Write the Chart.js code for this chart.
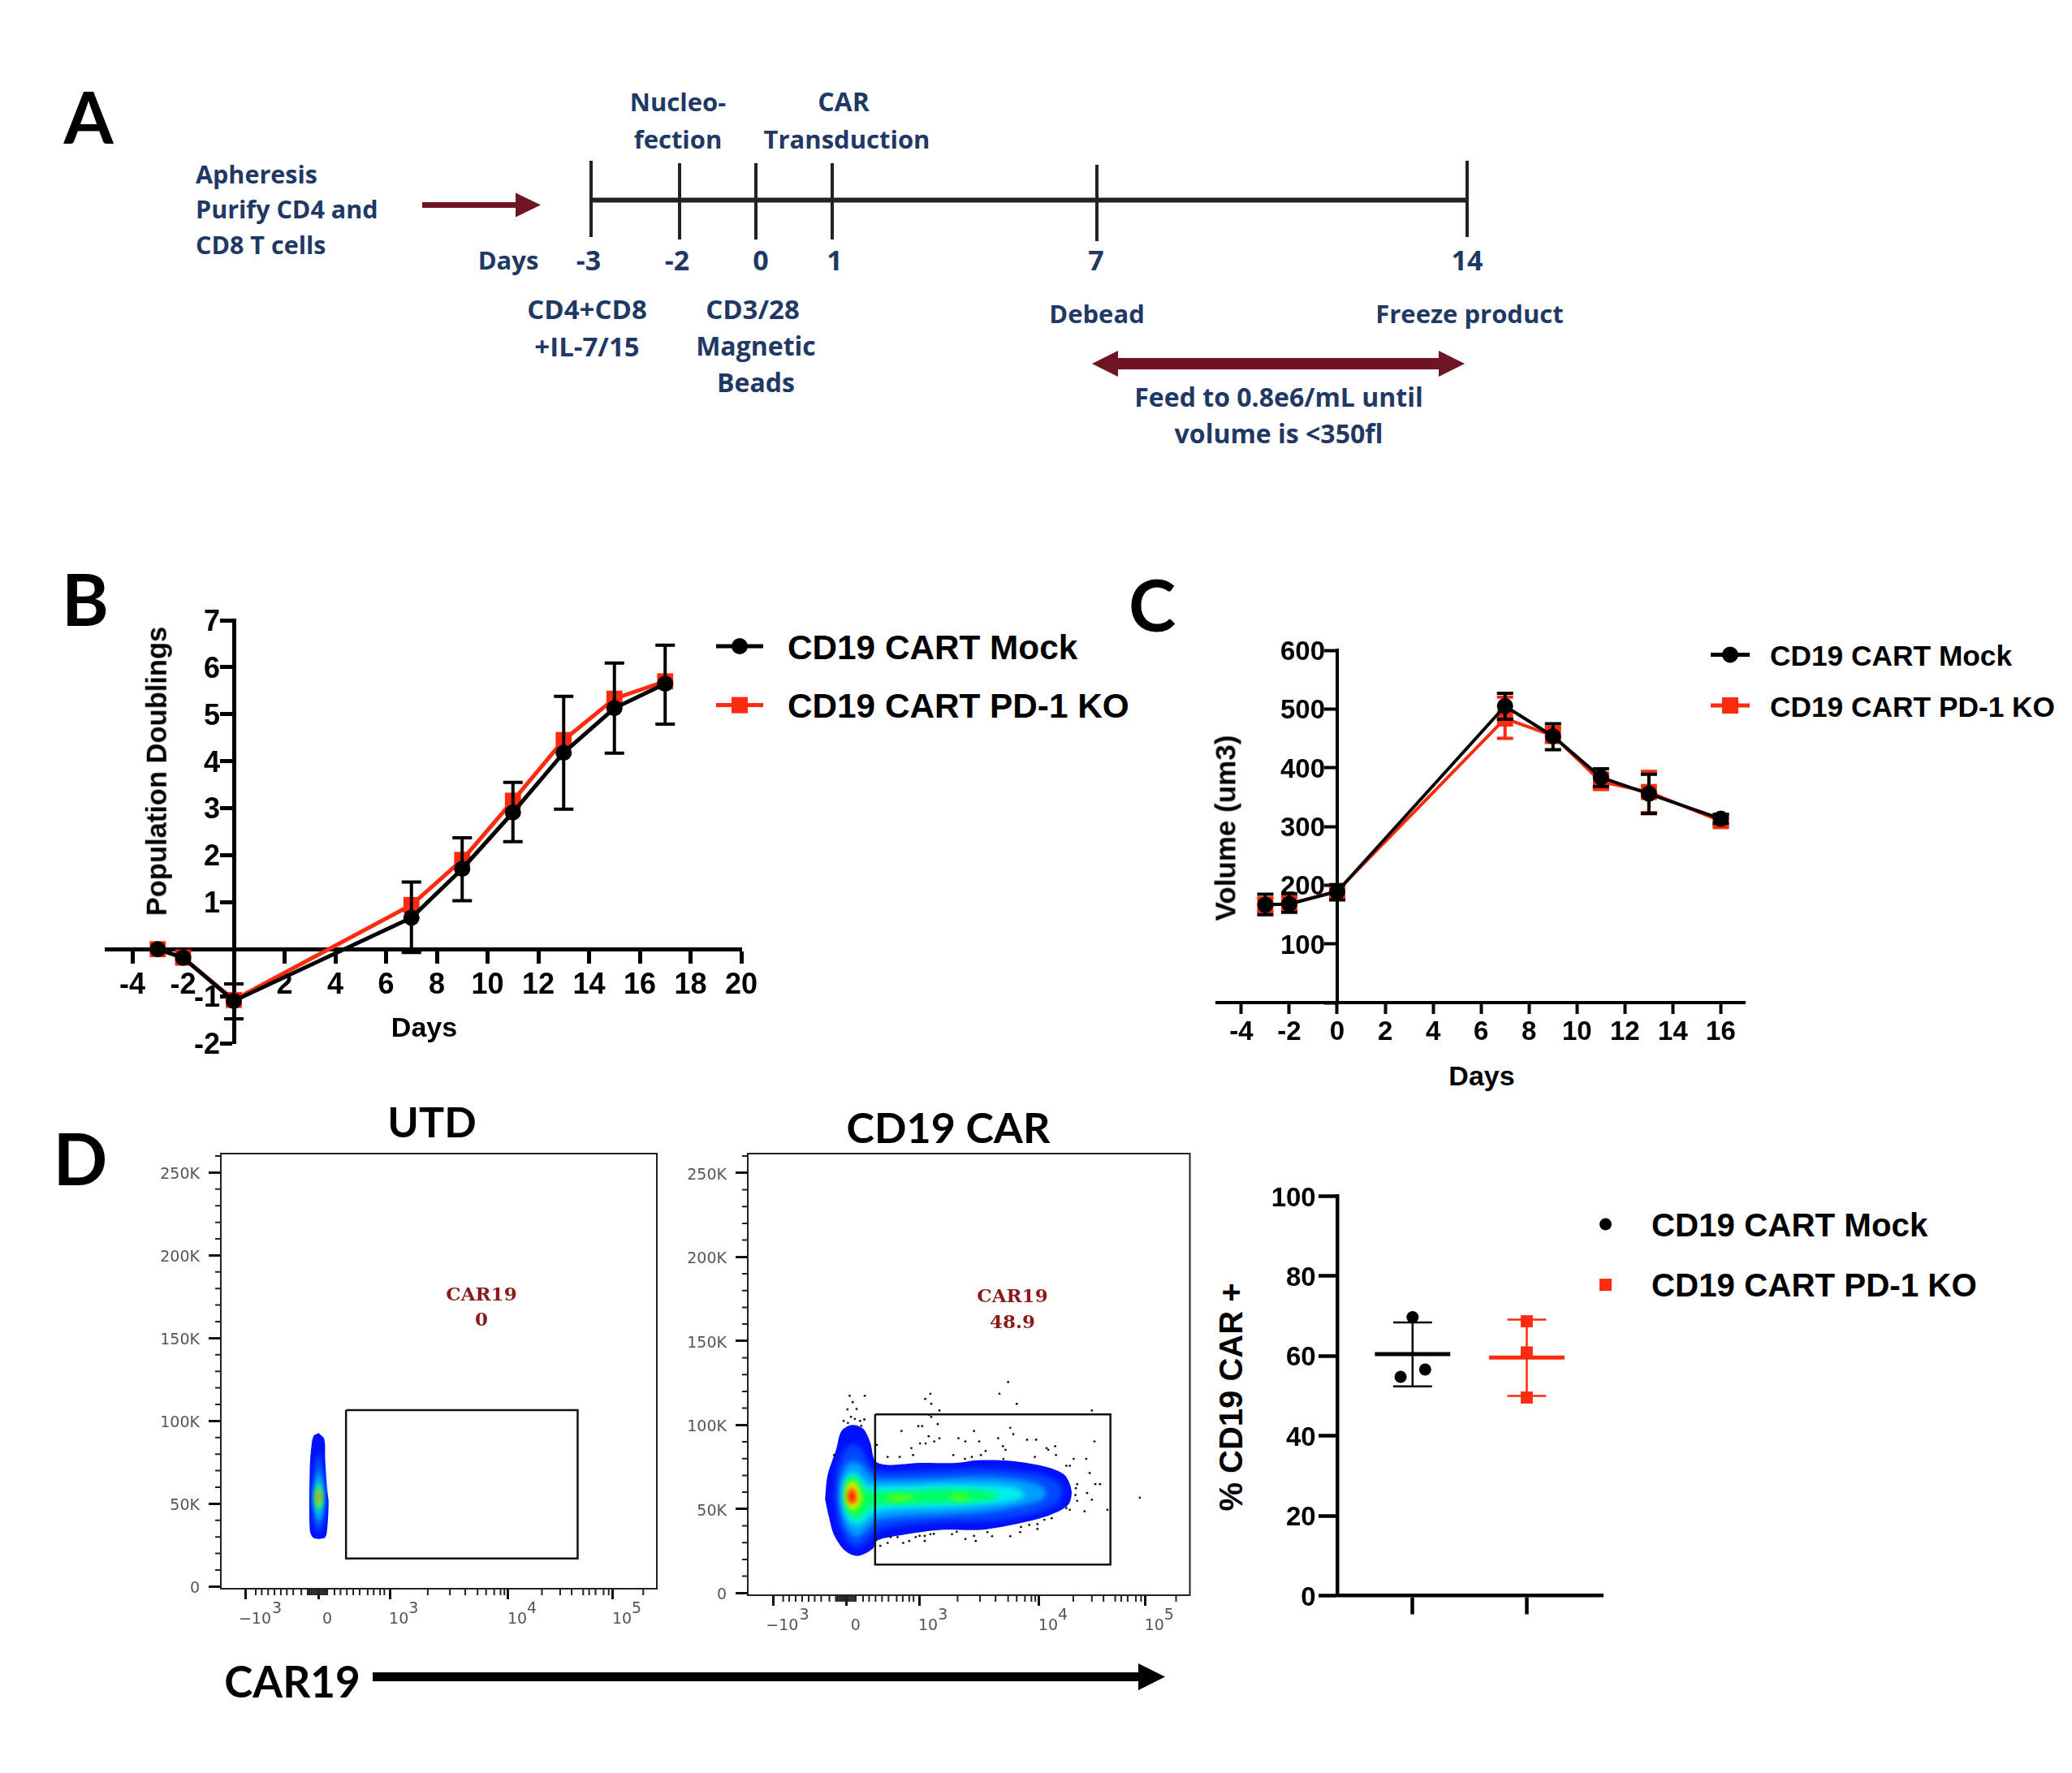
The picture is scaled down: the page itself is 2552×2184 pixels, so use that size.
<!DOCTYPE html>
<html>
<head>
<meta charset="utf-8">
<title>CD19 CART figure</title>
<script src="https://cdn.jsdelivr.net/npm/chart.js@4/dist/chart.umd.min.js"></script>
<style>
  html, body { margin: 0; background: #fff; }
  #page { position: relative; width: 2552px; height: 2184px; overflow: hidden; background: #fff; }
  canvas { position: absolute; }
  svg { position: absolute; left: 0; top: 0; }
  .t { position: absolute; white-space: nowrap; line-height: 1; }
  .sans { font-family: "Liberation Sans", Arial, sans-serif; font-weight: 700; color: #000; }
  .navy { font-family: "Open Sans", sans-serif; font-weight: 700; color: #1f3864; font-size: 31px; }
  .letter { font-family: Lato, sans-serif; font-weight: 700; color: #000; }
</style>
</head>
<body>
<div id="page">
  <svg width="2552" height="2184">
    <!-- panel A schematic -->
    <polygon points="520,249 635,249 635,237.5 666,252.5 635,267.5 635,256 520,256" fill="#6e1423"/>
    <line x1="728" y1="246.5" x2="1807" y2="246.5" stroke="#222" stroke-width="6"/>
    <g stroke="#222" stroke-width="4">
      <line x1="728" y1="198" x2="728" y2="292"/>
      <line x1="837" y1="201" x2="837" y2="295"/>
      <line x1="931" y1="201" x2="931" y2="295"/>
      <line x1="1025" y1="201" x2="1025" y2="295"/>
      <line x1="1351" y1="203" x2="1351" y2="297"/>
      <line x1="1807" y1="198" x2="1807" y2="292"/>
    </g>
    <polygon points="1345,448 1377,432 1377,441 1772,441 1772,432 1804,448 1772,464 1772,455 1377,455 1377,464" fill="#6e1423"/>
    <!-- CAR19 axis arrow -->
    <polygon points="459,2060 1402,2060 1402,2049 1435,2065.5 1402,2082 1402,2071 459,2071" fill="#000"/>
  </svg>
  <canvas id="chartB"></canvas>
  <canvas id="chartC"></canvas>
  <canvas id="chartUtd"></canvas>
  <canvas id="chartCar"></canvas>
  <canvas id="chartPct"></canvas>
</div>

<script>
const seriesNames = ['CD19 CART Mock', 'CD19 CART PD-1 KO'];
const BLACK = '#000000';
const RED = '#ff2b0f';

// panel B, population doublings
const daysB = [-3, -2, 0, 7, 9, 11, 13, 15, 17];
const mockB = [0, -0.18, -1.1, 0.67, 1.71, 2.91, 4.18, 5.13, 5.65];
const mockBLow = [null, null, -1.48, -0.07, 1.03, 2.29, 2.98, 4.17, 4.79];
const mockBHigh = [null, null, -0.74, 1.43, 2.37, 3.55, 5.38, 6.09, 6.47];
const koB = [0, -0.18, -1.08, 0.94, 1.9, 3.16, 4.45, 5.33, 5.7];
const xTicksB = [-4, -2, 0, 2, 4, 6, 8, 10, 12, 14, 16, 18, 20];
const yTicksB = [7, 6, 5, 4, 3, 2, 1, 0, -1, -2];

// panel C, cell volume
const daysC = [-3, -2, 0, 7, 9, 11, 13, 16];
const mockC = [166.5, 168, 189, 505, 453.5, 383.6, 355.6, 313];
const mockCLow = [149.6, 153.7, 175, 482.5, 430.7, 368, 321.9, 305.6];
const mockCHigh = [184.5, 185.7, 200.8, 526.8, 475, 398, 388.8, 320.7];
const koC = [166.5, 168, 190, 483.7, 454.6, 376, 358.6, 309];
const koCLow = [155, 158, 181, 450, 443, 363, 323.6, 300];
const koCHigh = [178, 181, 195, 520, 469, 390.6, 393.5, 318];
const xTicksC = [-4, -2, 0, 2, 4, 6, 8, 10, 12, 14, 16];
const yTicksC = [600, 500, 400, 300, 200, 100, 0];

// panel D right, % CAR+
const pctTicks = [100, 80, 60, 40, 20, 0];
const pctMock = [[1, 69.7], [1.11, 56.6], [0.895, 54.8]];
const pctKo = [[2, 68.7], [2, 60.9], [2, 49.6]];
const pctMockSummary = [1, 60.5, 52.4, 68.4];
const pctKoSummary = [2, 59.6, 50, 69.1];

// flow plots: x is display channel (biexponential), y is FSC in thousands
const flowXTicks = [59, 229, 397, 675, 921];
const flowXLabels = [['         3', '\u221210'], ['', '0'], ['      3', '10'], ['      4', '10'], ['      5', '10']];
const flowXMinor = [82, 96, 111, 126, 141, 155, 170, 189, 204, 208, 212, 216, 220, 224, 228, 232, 236, 240, 244, 248, 250,
  267, 281, 296, 311, 326, 345, 359, 374, 384, 486, 538, 574, 603, 623, 642, 657, 666, 754, 797, 824, 851, 865, 880, 899, 911, 992];
const flowYTicks = [0, 50, 100, 150, 200, 250];
const flowYMinor = [10, 20, 30, 40, 60, 70, 80, 90, 110, 120, 130, 140, 160, 170, 180, 190, 210, 220, 230, 240, 260];

const utdGate = [[294, 106.6], [838, 106.6], [838, 17], [294, 17], [294, 106.6]];
const carGate = [[295, 106.3], [840, 106.3], [840, 16.9], [295, 16.9], [295, 106.3]];

const utdColors = ['#0010ff', '#0060ff', '#00c8ff', '#00ff50', '#e8ff00', '#ff2000'];
const utdContours = [
  [[230, 92.7], [243, 89], [245, 76.8], [249, 59.8], [253, 51.2], [249, 32.9], [243, 29.3], [218, 29.3], [209, 34.1], [209, 72], [213, 85.4], [218, 91]],
  [[230, 81.7], [240, 69.5], [244, 54.9], [240, 40.2], [230, 32.9], [220, 40.2], [215, 54.9], [220, 69.5]],
  [[230, 70.7], [238, 62.2], [241, 53.7], [237, 43.9], [230, 39], [223, 43.9], [219, 53.7], [223, 62.2]],
  [[230, 64.6], [235, 58.5], [238, 53.7], [235, 47.6], [230, 45.1], [225, 47.6], [222, 53.7], [225, 58.5]],
  [[230, 61], [234, 56.1], [234, 51.2], [230, 48], [226, 51.2], [226, 56.1]],
  [[230, 58.5], [233, 54.9], [230, 50], [227, 54.9]]
];

const carColors = ['#0010ff', '#0048ff', '#00a0ff', '#00eeee', '#00ff60', '#70ff00', '#70ff00', '#70ff00', '#ffff00', '#ff9000', '#ff1000'];
const carContours = [
  [[179, 56], [185, 70.2], [205, 85.7], [217, 96.4], [242, 100], [268, 97.6], [284, 89.3], [295, 78.6], [322, 76.2], [398, 77.4], [482, 77.4], [532, 79], [608, 78.6], [692, 75], [734, 70.2], [750, 60.7], [742, 52.4], [700, 46.4], [633, 41.7], [540, 37.6], [448, 37.6], [356, 34.5], [301, 31.4], [289, 26.2], [255, 22.1], [226, 25], [200, 34.5], [188, 45.2]],
  [[203, 57.1], [206, 71.4], [221, 83.3], [242, 88.6], [263, 85.7], [280, 77.4], [297, 72.6], [398, 72.6], [532, 73.8], [616, 72.6], [683, 70.2], [721, 65.5], [729, 59.5], [717, 53.6], [666, 47.6], [566, 43.3], [448, 42.4], [347, 40], [297, 36.9], [276, 31], [255, 27.4], [234, 29.8], [213, 40.5]],
  [[211, 57.1], [215, 67.9], [226, 75], [242, 78.6], [263, 76.2], [280, 71.4], [297, 67.9], [398, 67.9], [532, 69], [616, 67.9], [675, 64.3], [692, 59.5], [675, 54.8], [566, 48.8], [448, 46.4], [347, 45.2], [297, 42.9], [272, 36.9], [251, 33.3], [230, 38.1], [217, 46.4]],
  [[219, 57.1], [221, 65.5], [234, 71], [247, 71.9], [263, 67.9], [280, 64.3], [331, 63.8], [482, 64.8], [616, 63.1], [641, 58.3], [616, 54.8], [482, 51.2], [347, 50], [297, 48.1], [272, 42.9], [251, 40], [234, 42.9], [223, 48.8]],
  [[223, 57.1], [226, 64.3], [238, 69], [251, 69], [263, 64.8], [280, 60.7], [356, 60.7], [482, 61.9], [566, 60], [582, 57.6], [549, 54.8], [440, 53.6], [347, 52.9], [289, 51.9], [272, 47.6], [251, 44], [234, 47.6], [226, 51.2]],
  [[227, 57.1], [230, 64.3], [240, 67.1], [251, 66.2], [262, 60.7], [268, 56], [259, 51.2], [247, 47.6], [234, 51.2]],
  [[314, 56.7], [347, 58.3], [389, 57.1], [347, 54.8]],
  [[465, 57.1], [490, 58.3], [515, 56.7], [490, 55.2]],
  [[230, 57.1], [232, 63.1], [241, 65.5], [251, 63.1], [257, 57.1], [251, 51.9], [238, 51.2], [231, 53.6]],
  [[232, 57.1], [235, 61.9], [242, 63.8], [248, 61.4], [252, 56.7], [247, 53.6], [239, 52.9]],
  [[232, 57.1], [236, 60.7], [242, 61.9], [247, 59.5], [250, 56], [245, 53.6], [238, 53.6]]
];

const carOutliers = [[603, 125.5], [423, 118.6], [411, 115.5], [425, 112.6], [444, 108.6], [420, 106], [425, 104.8], [583, 118.6], [623, 112.6], [797, 108.6],
  [236, 117.4], [243, 113.6], [271, 117.4], [231, 109.3], [252, 109.5], [222, 102.4], [239, 104.8], [248, 103.6], [270, 103.3], [232, 101.2], [260, 102.4], [263, 99.5],
  [299, 88.1], [356, 96.4], [395, 99.3], [404, 99.3], [440, 100.5], [419, 93.3], [399, 89], [412, 89], [432, 90.2], [444, 92.1], [488, 92.1], [504, 90.2], [524, 96.4], [536, 90.2],
  [608, 98.3], [615, 94.5], [580, 92.1], [647, 91.2], [668, 91.2], [591, 87.4], [597, 85.2], [692, 86.2], [712, 87.4], [696, 85.2], [803, 90.2], [714, 82.1], [755, 79.8], [784, 79.8],
  [379, 86.2], [383, 82.1], [324, 81], [352, 81], [476, 82.1], [503, 79.8], [519, 81], [540, 82.1], [551, 84.5], [592, 79.8], [665, 81], [738, 75.7], [746, 75.7], [792, 71.4],
  [805, 64.8], [816, 64.8], [763, 64.8], [760, 62.4], [759, 58.3], [786, 59.5], [797, 55.5], [763, 54.8], [908, 56.7], [833, 49.5], [780, 48.6], [746, 49.5], [738, 50.5],
  [704, 44.5], [687, 43.6], [671, 41], [652, 40.5], [633, 39.3], [631, 36.2], [608, 33.8], [671, 38.1], [566, 33.8], [555, 36.2], [524, 34], [528, 31], [504, 32.1], [473, 35], [484, 36.4],
  [431, 35.2], [423, 35], [410, 34], [398, 34], [389, 33.3], [410, 31], [374, 31], [360, 29.8], [347, 33.3], [331, 33.3], [324, 29.8], [307, 28.1], [200, 82.1]];

Chart.defaults.animation = false;
Chart.defaults.responsive = false;
Chart.defaults.devicePixelRatio = 1;
Chart.defaults.font.family = '"Liberation Sans", Arial, sans-serif';
Chart.defaults.color = '#000';
Chart.defaults.plugins.legend.display = false;
Chart.defaults.plugins.tooltip.enabled = false;

// error bars and mean lines are not in the library, so draw them through the scales
const errorBars = {
  id: 'errorBars',
  beforeDatasetDraw(chart, args) {
    const ds = chart.data.datasets[args.index];
    if (!ds.errLow) return;
    const { x, y } = chart.scales;
    const ctx = chart.ctx;
    ctx.save();
    ctx.strokeStyle = ds.borderColor;
    ctx.lineWidth = ds.errWidth || 4;
    ds.data.forEach((p, i) => {
      if (ds.errLow[i] == null) return;
      const px = x.getPixelForValue(p.x);
      const lo = y.getPixelForValue(ds.errLow[i]);
      const hi = y.getPixelForValue(ds.errHigh[i]);
      const cap = ds.capHalf || 12;
      ctx.beginPath();
      ctx.moveTo(px, lo); ctx.lineTo(px, hi);
      ctx.moveTo(px - cap, lo); ctx.lineTo(px + cap, lo);
      ctx.moveTo(px - cap, hi); ctx.lineTo(px + cap, hi);
      ctx.stroke();
    });
    ctx.restore();
  }
};

const summaryBars = {
  id: 'summaryBars',
  beforeDatasetDraw(chart, args) {
    const ds = chart.data.datasets[args.index];
    if (!ds.summary) return;
    const { x, y } = chart.scales;
    const [cx, mean, low, high] = ds.summary;
    const ctx = chart.ctx;
    ctx.save();
    ctx.strokeStyle = ds.backgroundColor;
    ctx.lineWidth = 2.5;
    ctx.beginPath();
    ctx.moveTo(x.getPixelForValue(cx), y.getPixelForValue(low));
    ctx.lineTo(x.getPixelForValue(cx), y.getPixelForValue(high));
    [low, high].forEach(v => {
      ctx.moveTo(x.getPixelForValue(cx - 0.17), y.getPixelForValue(v));
      ctx.lineTo(x.getPixelForValue(cx + 0.17), y.getPixelForValue(v));
    });
    ctx.stroke();
    ctx.lineWidth = 5;
    ctx.beginPath();
    ctx.moveTo(x.getPixelForValue(cx - 0.33), y.getPixelForValue(mean));
    ctx.lineTo(x.getPixelForValue(cx + 0.33), y.getPixelForValue(mean));
    ctx.stroke();
    ctx.restore();
  }
};

// a y axis placed with position {x: value} ignores ticks.padding, so its labels go here
function yLabels(gap, font, color) {
  return {
    id: 'yLabels',
    afterDraw(chart) {
      const { ctx, scales: { x, y } } = chart;
      const crossAt = x.getPixelForValue(Object.values(chart.options.scales.y.position)[0]);
      ctx.save();
      ctx.font = font;
      ctx.fillStyle = color;
      ctx.textAlign = 'right';
      ctx.textBaseline = 'middle';
      y.ticks.forEach(t => ctx.fillText(t.label, crossAt - gap, y.getPixelForValue(t.value) + 3));
      ctx.restore();
    }
  };
}

// soft edges between density levels
const densityBlur = {
  id: 'densityBlur',
  afterDatasetDraw(chart, args) {
    const ds = chart.data.datasets[args.index];
    if (ds.blurNext !== undefined) chart.ctx.filter = ds.blurNext ? 'blur(' + ds.blurNext + 'px)' : 'none';
  }
};

const flowFrame = {
  id: 'flowFrame',
  afterDraw(chart) {
    const { ctx, chartArea: a, scales: { x, y } } = chart;
    ctx.save();
    ctx.strokeStyle = '#222';
    ctx.lineWidth = 2;
    ctx.strokeRect(a.left, a.top, a.right - a.left, a.bottom - a.top);
    ctx.beginPath();
    flowXMinor.forEach(v => {
      const px = x.getPixelForValue(v);
      ctx.moveTo(px, a.bottom); ctx.lineTo(px, a.bottom + 8);
    });
    flowYMinor.forEach(v => {
      const py = y.getPixelForValue(v);
      ctx.moveTo(a.left, py); ctx.lineTo(a.left - 7, py);
    });
    ctx.stroke();
    ctx.restore();
  }
};

function points(xs, ys) {
  return xs.map((x, i) => ({ x: x, y: ys[i] }));
}
function pairs(list) {
  return list.map(p => ({ x: p[0], y: p[1] }));
}

// put the canvas so that the plot area lands on the given box
function place(id, box, canvasBox) {
  const c = document.getElementById(id);
  c.width = canvasBox.w;
  c.height = canvasBox.h;
  c.style.left = canvasBox.x + 'px';
  c.style.top = canvasBox.y + 'px';
  return {
    ctx: c,
    padding: {
      left: box.l - canvasBox.x,
      right: canvasBox.x + canvasBox.w - box.r,
      top: box.t - canvasBox.y,
      bottom: canvasBox.y + canvasBox.h - box.b
    }
  };
}

function lineSeries(label, data, color, style, r, lw) {
  return {
    label: label, data: data, showLine: true, borderColor: color, backgroundColor: color, borderWidth: lw,
    pointStyle: style, pointRadius: r, pointBackgroundColor: color, pointBorderColor: color, pointBorderWidth: 0,
    tension: 0, clip: false, errWidth: 4
  };
}

function setOrder(datasets) {
  datasets.forEach((d, i) => { d.order = -i; });
  return datasets;
}

// axis that crosses the other one at a value
function crossAxis(min, max, ticksList, cross, crossAt, tl, labelGap, tw, size, fmt, isY) {
  return {
    type: 'linear', min: min, max: max,
    position: { [cross]: crossAt },
    border: { display: true, color: BLACK, width: tw },
    grid: { drawOnChartArea: false, drawTicks: true, tickLength: tl, tickWidth: tw, tickColor: BLACK },
    afterBuildTicks: s => { s.ticks = ticksList.map(v => ({ value: v })); },
    ticks: {
      display: !isY, autoSkip: false, maxRotation: 0, minRotation: 0, color: BLACK,
      font: { size: size, weight: 'bold' },
      padding: labelGap,
      callback: fmt
    }
  };
}

const blankZero = v => (v === 0 ? '' : String(v));
const axisFont = size => 'bold ' + size + 'px "Liberation Sans", Arial, sans-serif';

// panel B
const layoutB = place('chartB', { l: 131.75, r: 913, t: 764, b: 1285 }, { x: 100, y: 740, w: 860, h: 580 });
const koBSeries = lineSeries(seriesNames[1], points(daysB, koB), RED, 'rect', 14, 5);
const mockBSeries = lineSeries(seriesNames[0], points(daysB, mockB), BLACK, 'circle', 10, 5);
mockBSeries.errLow = mockBLow;
mockBSeries.errHigh = mockBHigh;
new Chart(layoutB.ctx, {
  type: 'scatter',
  data: { datasets: setOrder([koBSeries, mockBSeries]) },
  plugins: [errorBars, yLabels(17, axisFont(36), BLACK)],
  options: {
    layout: { padding: layoutB.padding, autoPadding: false },
    scales: {
      x: crossAxis(-5, 20, xTicksB, 'y', 0, 15, 8, 5, 36, blankZero, false),
      y: crossAxis(-2, 7, yTicksB, 'x', 0, 15, 2, 5, 36, blankZero, true)
    }
  }
});

// panel C
const layoutC = place('chartC', { l: 1499.35, r: 2149, t: 801, b: 1235 }, { x: 1470, y: 780, w: 700, h: 520 });
const koCSeries = lineSeries(seriesNames[1], points(daysC, koC), RED, 'rect', 14, 4);
koCSeries.errLow = koCLow;
koCSeries.errHigh = koCHigh;
const mockCSeries = lineSeries(seriesNames[0], points(daysC, mockC), BLACK, 'circle', 10, 4);
mockCSeries.errLow = mockCLow;
mockCSeries.errHigh = mockCHigh;
[koCSeries, mockCSeries].forEach(s => { s.capHalf = 10; });
new Chart(layoutC.ctx, {
  type: 'scatter',
  data: { datasets: setOrder([koCSeries, mockCSeries]) },
  plugins: [errorBars, yLabels(15, axisFont(33), BLACK)],
  options: {
    layout: { padding: layoutC.padding, autoPadding: false },
    scales: {
      x: crossAxis(-5, 17, xTicksC, 'y', 0, 12, 5, 4, 33, v => String(v), false),
      y: crossAxis(0, 600, yTicksC, 'x', 0, 14, 1, 4, 33, blankZero, true)
    }
  }
});

// flow plots
function contourSeries(list, colors) {
  return list.map((pts, i) => ({
    data: pairs(pts.concat([pts[0]])), showLine: true, fill: 'shape', tension: 0.3,
    backgroundColor: colors[i], borderColor: 'transparent', borderWidth: 0, pointRadius: 0,
    blurNext: i === list.length - 1 ? 0 : 3
  }));
}

function flowChart(id, box, canvasBox, contours, colors, gate, outliers) {
  const layout = place(id, box, canvasBox);
  const sets = contourSeries(contours, colors);
  if (outliers) {
    sets.push({ data: pairs(outliers), showLine: false, pointRadius: 1.4, pointBorderWidth: 0, pointBackgroundColor: '#111' });
  }
  sets.push({ data: pairs(gate), showLine: true, tension: 0, fill: false, borderColor: '#111', borderWidth: 2.5, pointRadius: 0 });
  new Chart(layout.ctx, {
    type: 'scatter',
    data: { datasets: setOrder(sets) },
    plugins: [densityBlur, flowFrame, yLabels(26, '19px "DejaVu Sans", sans-serif', '#555')],
    options: {
      layout: { padding: layout.padding, autoPadding: false },
      scales: {
        x: {
          type: 'linear', min: 0, max: 1024, position: { y: -1.3 },
          border: { display: false },
          grid: { drawOnChartArea: false, drawTicks: true, tickLength: 13, tickWidth: 3, tickColor: '#111' },
          afterBuildTicks: s => { s.ticks = flowXTicks.map(v => ({ value: v })); },
          ticks: {
            autoSkip: false, maxRotation: 0, minRotation: 0, color: '#555', labelOffset: 11, padding: 6,
            font: { family: '"DejaVu Sans", sans-serif', size: 19, lineHeight: 0.68 },
            callback: v => flowXLabels[flowXTicks.indexOf(v)]
          }
        },
        y: {
          type: 'linear', min: -1.3, max: 261.5, position: { x: 0 },
          border: { display: false },
          grid: { drawOnChartArea: false, drawTicks: true, tickLength: 15, tickWidth: 3, tickColor: '#111' },
          afterBuildTicks: s => { s.ticks = flowYTicks.map(v => ({ value: v })); },
          ticks: {
            display: false,
            callback: v => (v === 0 ? '0' : v + 'K')
          }
        }
      }
    }
  });
}

flowChart('chartUtd', { l: 272, r: 809, t: 1421, b: 1957 }, { x: 180, y: 1410, w: 650, h: 620 }, utdContours, utdColors, utdGate, null);
flowChart('chartCar', { l: 921, r: 1465.5, t: 1421, b: 1965 }, { x: 830, y: 1410, w: 650, h: 620 }, carContours, carColors, carGate, carOutliers);

// panel D, percent positive
const layoutPct = place('chartPct', { l: 1647.7, r: 1974, t: 1473.5, b: 1965.6 }, { x: 1560, y: 1450, w: 430, h: 560 });
const pctMockSeries = {
  label: seriesNames[0], data: pairs(pctMock), showLine: false, pointStyle: 'circle', pointRadius: 7.5, pointBorderWidth: 0,
  backgroundColor: BLACK, pointBackgroundColor: BLACK, summary: pctMockSummary, clip: false
};
const pctKoSeries = {
  label: seriesNames[1], data: pairs(pctKo), showLine: false, pointStyle: 'rect', pointRadius: 10.5, pointBorderWidth: 0,
  backgroundColor: RED, pointBackgroundColor: RED, summary: pctKoSummary, clip: false
};
new Chart(layoutPct.ctx, {
  type: 'scatter',
  data: { datasets: setOrder([pctMockSeries, pctKoSeries]) },
  plugins: [summaryBars, yLabels(27, axisFont(33), BLACK)],
  options: {
    layout: { padding: layoutPct.padding, autoPadding: false },
    scales: {
      x: crossAxis(0.345, 2.665, [1, 2], 'y', 0, 21, 2, 4.5, 33, () => '', false),
      y: crossAxis(0, 100, pctTicks, 'x', 0.345, 21, 6, 4.5, 33, v => String(v), true)
    }
  }
});

// text and legends
const page = document.getElementById('page');
function text(str, x, y, cls, css) {
  const d = document.createElement('div');
  d.className = 't ' + cls;
  d.textContent = str;
  d.style.left = x + 'px';
  d.style.top = y + 'px';
  d.style.transform = (css && css.transform) || 'translate(-50%, -50%)';
  if (css && css.size) d.style.fontSize = css.size + 'px';
  if (css && css.color) d.style.color = css.color;
  if (css && css.family) d.style.fontFamily = css.family;
  page.appendChild(d);
}
const leftAligned = { transform: 'translateY(-50%)', size: 30.5 };

function key(x0, x1, y, color, shape, textX, size, label, noLine) {
  const svg = document.querySelector('svg');
  const ns = 'http://www.w3.org/2000/svg';
  if (!noLine) {
    const l = document.createElementNS(ns, 'line');
    l.setAttribute('x1', x0); l.setAttribute('x2', x1);
    l.setAttribute('y1', y); l.setAttribute('y2', y);
    l.setAttribute('stroke', color); l.setAttribute('stroke-width', 5);
    svg.appendChild(l);
  }
  const cx = (x0 + x1) / 2;
  let m;
  if (shape === 'circle') {
    m = document.createElementNS(ns, 'circle');
    m.setAttribute('cx', cx); m.setAttribute('cy', y); m.setAttribute('r', noLine ? 7.5 : 10);
  } else {
    const side = noLine ? 15 : 20;
    m = document.createElementNS(ns, 'rect');
    m.setAttribute('x', cx - side / 2); m.setAttribute('y', y - side / 2);
    m.setAttribute('width', side); m.setAttribute('height', side);
  }
  m.setAttribute('fill', color);
  svg.appendChild(m);
  text(label, textX, y + 1.5, 'sans', { transform: 'translateY(-50%)', size: size });
}

key(882, 940, 796, BLACK, 'circle', 970, 42.3, seriesNames[0]);
key(882, 940, 868.6, RED, 'rect', 970, 42.3, seriesNames[1]);
key(2107, 2155, 806.5, BLACK, 'circle', 2180, 35.3, seriesNames[0]);
key(2107, 2155, 869, RED, 'rect', 2180, 35.3, seriesNames[1]);
key(1967, 1988, 1508, BLACK, 'circle', 2034, 40.3, seriesNames[0], true);
key(1967, 1988, 1582.6, RED, 'rect', 2034, 40.3, seriesNames[1], true);

const vertical = { transform: 'translate(-50%, -50%) rotate(-90deg)' };
text('Population Doublings', 193, 950, 'sans', { transform: vertical.transform, size: 34.5 });
text('Days', 522.5, 1265, 'sans', { size: 34 });
text('Volume (um3)', 1509, 1020, 'sans', { transform: vertical.transform, size: 35 });
text('Days', 1825, 1325, 'sans', { size: 34 });
text('% CD19 CAR +', 1516, 1720.5, 'sans', { transform: vertical.transform, size: 40 });

text('A', 109, 143, 'letter', { size: 88 });
text('B', 105, 737, 'letter', { size: 88 });
text('C', 1419, 744, 'letter', { size: 88 });
text('D', 99, 1426, 'letter', { size: 88 });
text('UTD', 532, 1381, 'letter', { size: 52 });
text('CD19 CAR', 1168, 1388, 'letter', { size: 52 });
text('CAR19', 360, 2070, 'letter', { size: 53 });

const serifRed = { size: 23, color: '#8b1a1a', family: '"DejaVu Serif", serif' };
['CAR19', '0'].forEach((s, i) => text(s, 593, 1593 + i * 31, 'sans', serifRed));
['CAR19', '48.9'].forEach((s, i) => text(s, 1247, 1595 + i * 32, 'sans', serifRed));

// panel A labels
const wideNavy = { size: 32 };
text('Apheresis', 241, 214, 'navy', leftAligned);
text('Purify CD4 and', 241, 257, 'navy', leftAligned);
text('CD8 T cells', 241, 301, 'navy', leftAligned);
text('Nucleo-', 835, 125, 'navy');
text('fection', 835, 170.5, 'navy');
text('CAR', 1039, 125, 'navy', wideNavy);
text('Transduction', 1043, 170.5, 'navy');
text('Days', 626, 320, 'navy');
['-3', '-2', '0', '1', '7', '14'].forEach((s, i) => text(s, [725, 834, 937, 1028, 1350, 1807][i], 320, 'navy', { size: 34 }));
text('CD4+CD8', 723, 380, 'navy', { size: 33 });
text('+IL-7/15', 723, 426, 'navy', { size: 33 });
text('CD3/28', 927, 380, 'navy', { size: 33 });
text('Magnetic', 931, 426, 'navy', wideNavy);
text('Beads', 931, 471, 'navy', wideNavy);
text('Debead', 1351, 386, 'navy');
text('Freeze product', 1810, 386, 'navy');
text('Feed to 0.8e6/mL until', 1575, 489, 'navy', wideNavy);
text('volume is <350fl', 1575, 534, 'navy', wideNavy);
</script>
</body>
</html>
